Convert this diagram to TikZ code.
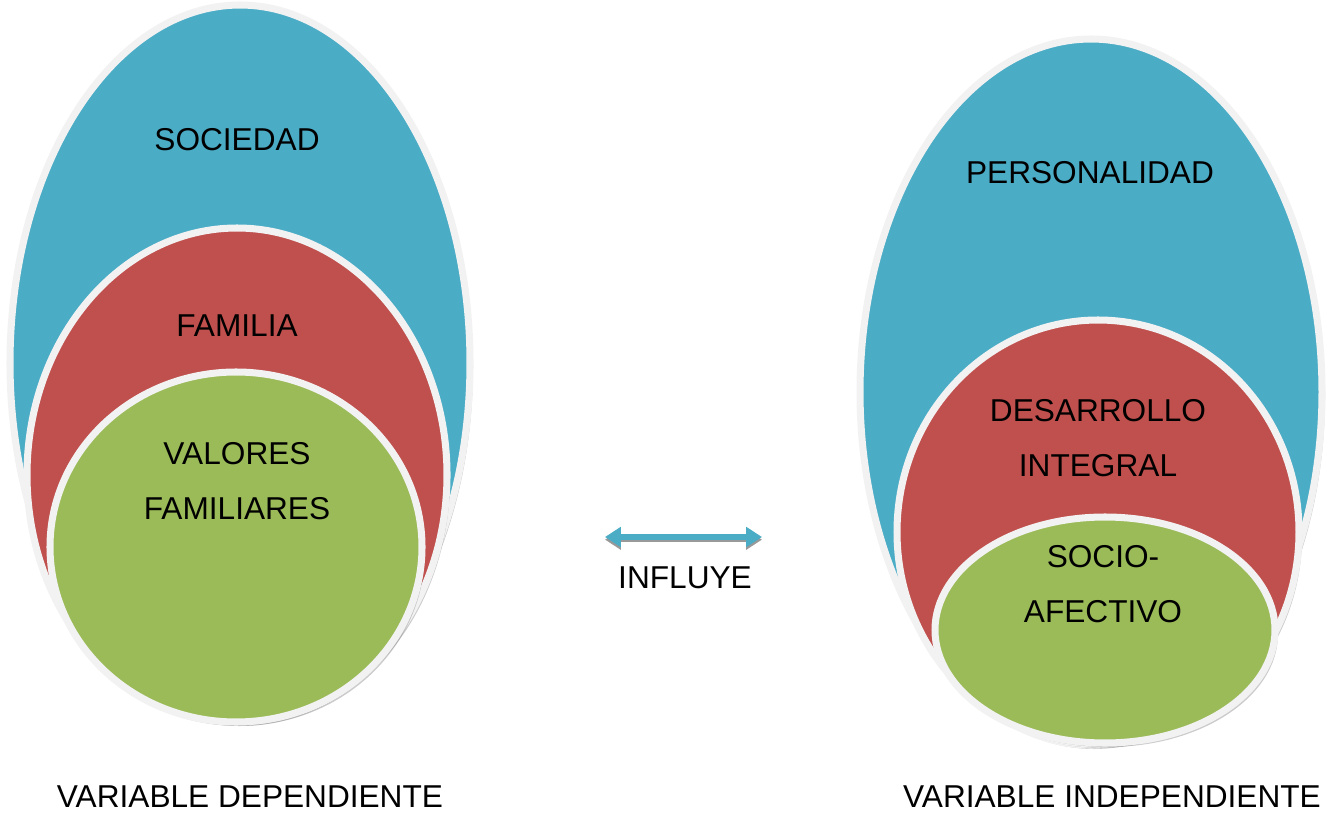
\documentclass[tikz,border=0pt]{standalone}
\usepackage{fontspec}
\setmainfont{Liberation Sans}
\usepackage{xcolor}
\usetikzlibrary{arrows.meta}

\definecolor{azul}{HTML}{4BACC6}
\definecolor{rojo}{HTML}{C0504D}
\definecolor{verde}{HTML}{9BBB59}
\definecolor{borde}{HTML}{F2F2F2}

\tikzset{
  capa/.style={draw=borde, line width=4pt},
  sombra/.style={fill=black!45, opacity=0.45},
  rotulo/.style={font=\fontsize{18}{31}\selectfont, align=center, text=black},
}

\begin{document}
\begin{tikzpicture}[x=0.02cm,y=-0.02cm]
    \useasboundingbox (0,0) rectangle (1338,814);

    % variable dependiente
    \fill[sombra] (243,367) ellipse [x radius=230, y radius=358];
    \filldraw[capa, fill=azul] (240,363) ellipse [x radius=230, y radius=358];
    \fill[sombra] (240,479) ellipse [x radius=210, y radius=247];
    \filldraw[capa, fill=rojo] (237,475) ellipse [x radius=210, y radius=247];
    \fill[sombra] (239,551) ellipse [x radius=186, y radius=175];
    \filldraw[capa, fill=verde] (236,547) ellipse [x radius=186, y radius=175];

    \node[rotulo] (sociedad) at (237,140) {SOCIEDAD};
    \node[rotulo] (familia) at (237,326) {FAMILIA};
    \node[rotulo] (valores) at (237,481) {VALORES\\FAMILIARES};
    \node[rotulo] (dependiente) at (250,797) {VARIABLE DEPENDIENTE};

    % variable independiente
    \fill[sombra] (1094,396) ellipse [x radius=231, y radius=353];
    \filldraw[capa, fill=azul] (1091,392) ellipse [x radius=231, y radius=353];
    \fill[sombra] (1101,536) ellipse [x radius=201, y radius=212];
    \filldraw[capa, fill=rojo] (1098,532) ellipse [x radius=201, y radius=212];
    \fill[sombra] (1108,634) ellipse [x radius=170, y radius=113];
    \filldraw[capa, fill=verde] (1105,630) ellipse [x radius=170, y radius=113];

    \node[rotulo] (personalidad) at (1090,173) {PERSONALIDAD};
    \node[rotulo] (desarrollo) at (1098,438) {DESARROLLO\\INTEGRAL};
    \node[rotulo] (socio) at (1103,584) {SOCIO-\\AFECTIVO};
    \node[rotulo] (independiente) at (1112,797) {VARIABLE INDEPENDIENTE};

    % influye
    \coordinate (izq) at (605,537);
    \coordinate (der) at (762,537);
    \draw[black!40, line width=3pt, {Triangle[length=9pt,width=11pt]}-{Triangle[length=9pt,width=11pt]}]
        ([yshift=-1.5pt]izq) -- ([yshift=-1.5pt]der);
    \draw[azul, line width=3pt, {Triangle[length=9pt,width=11pt]}-{Triangle[length=9pt,width=11pt]}]
        (izq) -- (der);
    \node[rotulo] (influye) at (685,578) {INFLUYE};
\end{tikzpicture}
\end{document}
